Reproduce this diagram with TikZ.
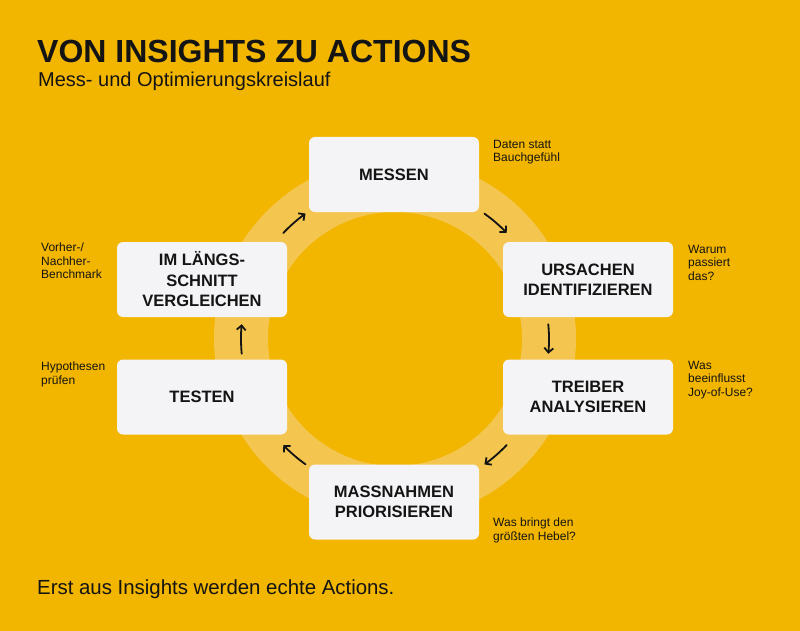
\documentclass[tikz,border=0pt]{standalone}
\usepackage{fontspec}
\setmainfont{Liberation Sans}
\usepackage{tikz}
\usetikzlibrary{calc}
\usetikzlibrary{arrows.meta}

\definecolor{bgyellow}{HTML}{F2B500}
\definecolor{ringyellow}{HTML}{F4C64F}
\definecolor{boxgrey}{HTML}{F4F4F6}
\definecolor{inkblack}{HTML}{141414}

\begin{document}
\begin{tikzpicture}[x=1pt,y=-1pt,
    stage/.style={fill=boxgrey, rounded corners=6pt, minimum width=170pt, minimum height=75pt, inner sep=0pt, align=center, text=inkblack, font=\bfseries\fontsize{16.5}{20.5}\selectfont},
    note/.style={anchor=north west, inner sep=0pt, align=left, text=inkblack, font=\fontsize{12}{13.5}\selectfont},
    flow/.style={-{Straight Barb[length=4.5pt,width=9pt]}, line width=1.8pt, line cap=round, inkblack}]
            \fill[bgyellow](0,0) rectangle (800,631);
            \useasboundingbox (0,0) rectangle (800,631);

            % title
            \node[anchor=base west, inner sep=0pt, text=inkblack, font=\bfseries\fontsize{32}{36}\selectfont](title) at (37,63){VON INSIGHTS ZU ACTIONS};
            \node[anchor=base west, inner sep=0pt, text=inkblack, font=\fontsize{20}{22}\selectfont](subtitle) at (38,87){Mess- und Optimierungskreislauf};

            % ring
            \coordinate (ring) at (395,339);
            \fill[ringyellow, even odd rule](ring) circle (181) (ring) circle (127);

            % stages
            \node[stage](messen) at (394,174.5){MESSEN};
            \node[stage](ursachen) at (588,279.5){URSACHEN\\IDENTIFIZIEREN};
            \node[stage](treiber) at (588,397){TREIBER\\ANALYSIEREN};
            \node[stage](massnahmen) at (394,502){MASSNAHMEN\\PRIORISIEREN};
            \node[stage](testen) at (202,397){TESTEN};
            \node[stage](vergleichen) at (202,279.5){IM LÄNGS-\\SCHNITT\\VERGLEICHEN};

            % notes
            \node[note](nmessen) at (493,140){Daten statt\\Bauchgefühl};
            \node[note](nursachen) at (688,245){Warum\\passiert\\das?};
            \node[note](ntreiber) at (688,361){Was\\beeinflusst\\Joy-of-Use?};
            \node[note](nmassnahmen) at (493,518){Was bringt den\\größten Hebel?};
            \node[note](ntesten) at (41,362){Hypothesen\\prüfen};
            \node[note](nvergleichen) at (41,243){Vorher-/\\Nachher-\\Benchmark};

            % arrows round the ring
            \foreach \a in {-49,0,49,131,180,229}
            {\draw[flow] ($(ring)+(\a-5.5:154)$) arc[start angle=\a-5.5, end angle=\a+5.5, radius=154];}

            \node[anchor=base west, inner sep=0pt, text=inkblack, font=\fontsize{20.4}{22}\selectfont](claim) at (37,594){Erst aus Insights werden echte Actions.};
        \end{tikzpicture}
\end{document}
